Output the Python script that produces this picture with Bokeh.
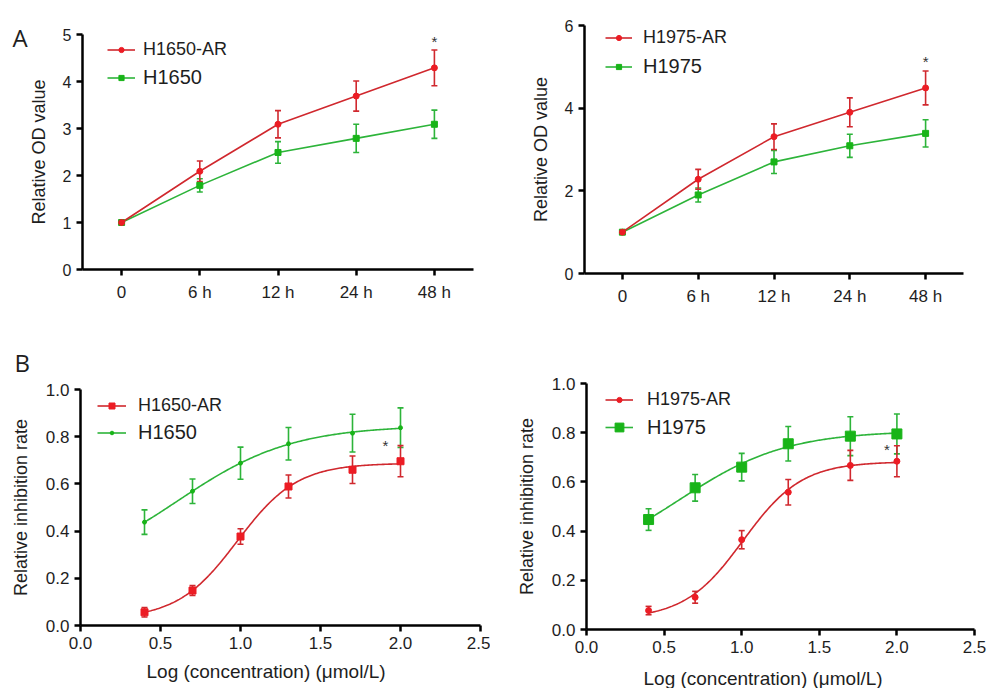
import numpy as np
from bokeh.plotting import figure
from bokeh.models import (Range1d, FixedTicker, Whisker, TeeHead, ColumnDataSource,
                          Legend, LegendItem, Label, PrintfTickFormatter)
from bokeh.layouts import row, column
from bokeh.embed import file_html
from bokeh.resources import INLINE
from bokeh.core.properties import value

# ---------------- data ----------------
time_labels = ["0", "6 h", "12 h", "24 h", "48 h"]

a1_ar_mean = [1.0, 2.09, 3.09, 3.69, 4.29]
a1_ar_err = [0.0, 0.22, 0.29, 0.32, 0.38]
a1_wt_mean = [1.0, 1.79, 2.49, 2.79, 3.09]
a1_wt_err = [0.0, 0.14, 0.23, 0.30, 0.30]

a2_ar_mean = [1.0, 2.28, 3.31, 3.90, 4.49]
a2_ar_err = [0.0, 0.24, 0.31, 0.35, 0.41]
a2_wt_mean = [1.0, 1.90, 2.70, 3.09, 3.39]
a2_wt_err = [0.0, 0.17, 0.28, 0.28, 0.33]

log_conc = [0.4, 0.7, 1.0, 1.3, 1.7, 2.0]
b1_ar_mean = [0.056, 0.148, 0.377, 0.589, 0.660, 0.696]
b1_ar_err = [0.020, 0.021, 0.033, 0.049, 0.058, 0.066]
b1_wt_mean = [0.438, 0.569, 0.688, 0.770, 0.815, 0.838]
b1_wt_err = [0.052, 0.052, 0.068, 0.069, 0.080, 0.084]

b2_ar_mean = [0.077, 0.131, 0.365, 0.558, 0.667, 0.684]
b2_ar_err = [0.017, 0.024, 0.037, 0.052, 0.061, 0.063]
b2_wt_mean = [0.447, 0.576, 0.660, 0.755, 0.786, 0.795]
b2_wt_err = [0.044, 0.054, 0.056, 0.070, 0.079, 0.081]

a_yticks_1 = [0, 1, 2, 3, 4, 5]
a_yticks_2 = [0, 2, 4, 6]
b_yticks = [0.0, 0.2, 0.4, 0.6, 0.8, 1.0]
b_xticks = [0.0, 0.5, 1.0, 1.5, 2.0, 2.5]

RED_LINE = "#d0282e"
RED_MK = "#ec1c24"
GREEN_LINE = "#2db43a"
GREEN_MK = "#18b418"
FONT = "Liberation Sans"
TXT = "#1e1e1e"


class Frame:
    """Maps pixel positions inside a figure (origin top-left) to data values."""

    def __init__(self, W, H, px0, px1, xv0, xv1, py_top, py_bot, yv0, yv1):
        self.W, self.H = W, H
        self.xppu = (px1 - px0) / (xv1 - xv0)
        self.yppu = (py_bot - py_top) / (yv1 - yv0)
        self.px0, self.xv0, self.py_bot, self.yv0 = px0, xv0, py_bot, yv0

    def xd(self, px):
        return self.xv0 + (px - self.px0) / self.xppu

    def yd(self, py):
        return self.yv0 + (self.py_bot - py) / self.yppu


def base_fig(fr, xb, yb):
    p = figure(width=fr.W, height=fr.H,
               x_range=Range1d(fr.xd(0), fr.xd(fr.W)),
               y_range=Range1d(fr.yd(fr.H), fr.yd(0)),
               toolbar_location=None, output_backend="svg")
    p.min_border = 0
    p.min_border_left = 0
    p.min_border_right = 0
    p.min_border_top = 0
    p.min_border_bottom = 0
    p.outline_line_color = None
    p.grid.visible = False
    p.background_fill_color = "white"
    p.border_fill_color = "white"
    p.xaxis.fixed_location = yb[0]
    p.yaxis.fixed_location = xb[0]
    p.xaxis.bounds = xb
    p.yaxis.bounds = yb
    for ax in (p.xaxis[0], p.yaxis[0]):
        ax.axis_line_width = 2.5
        ax.axis_line_color = "black"
        ax.major_tick_line_width = 2.5
        ax.major_tick_line_color = "black"
        ax.major_tick_out = 6
        ax.major_tick_in = 0
        ax.minor_tick_line_color = None
        ax.major_label_text_font = FONT
        ax.major_label_text_color = TXT
        ax.axis_label_text_font = FONT
        ax.axis_label_text_font_style = "normal"
        ax.axis_label_text_color = TXT
    return p


def add_series(p, x, mean, err, line_color, mk_color, marker, size, curve=None):
    xe = [xi for xi, e in zip(x, err) if e > 0]
    up = [m + e for m, e in zip(mean, err) if e > 0]
    lo = [m - e for m, e in zip(mean, err) if e > 0]
    src = ColumnDataSource(dict(x=xe, upper=up, lower=lo))
    w = Whisker(source=src, base="x", upper="upper", lower="lower",
                line_color=line_color, line_width=1.6, level="underlay",
                upper_head=TeeHead(size=6, line_color=line_color, line_width=1.6),
                lower_head=TeeHead(size=6, line_color=line_color, line_width=1.6))
    p.add_layout(w)
    if curve is None:
        lr = p.line(x, mean, line_color=line_color, line_width=1.6)
    else:
        lr = p.line(curve[0], curve[1], line_color=line_color, line_width=1.6)
    sr = p.scatter(x, mean, marker=marker, size=size, fill_color=mk_color,
                   line_color=mk_color)
    return [lr, sr]


def add_legend(p, fr, rends, label, size, gx, cy, gw, gh, standoff):
    # gx: pixel x of the glyph start, cy: pixel y (from top) of item centre
    lg = Legend(items=[LegendItem(label=label, renderers=rends)],
                location=(gx, fr.H - cy - 15),
                glyph_width=gw, glyph_height=gh, label_standoff=standoff,
                label_text_font_size=size, label_text_font=FONT, label_text_color=TXT,
                padding=0, margin=0, border_line_color=None, background_fill_alpha=0,
                spacing=0, label_height=30)
    p.add_layout(lg)


def fit_4pl(x, y):
    x = np.asarray(x, float)
    y = np.asarray(y, float)
    ec = np.linspace(-0.5, 3.0, 351)[:, None, None]
    hs = np.linspace(0.3, 6.0, 286)[None, :, None]
    s = 1.0 / (1.0 + 10.0 ** ((ec - x[None, None, :]) * hs))
    u = 1.0 - s
    suu = (u * u).sum(-1)
    svv = (s * s).sum(-1)
    suv = (u * s).sum(-1)
    suy = (u * y).sum(-1)
    svy = (s * y).sum(-1)
    det = suu * svv - suv ** 2
    det = np.where(np.abs(det) < 1e-12, np.nan, det)
    a = (suy * svv - svy * suv) / det
    b = (svy * suu - suy * suv) / det
    pred = a[..., None] * u + b[..., None] * s
    sse = ((pred - y) ** 2).sum(-1)
    sse = np.where(np.isfinite(sse), sse, np.inf)
    i, j = np.unravel_index(np.argmin(sse), sse.shape)
    A, B, E, H = a[i, j], b[i, j], ec[i, 0, 0], hs[0, j, 0]
    xs = np.linspace(x.min(), x.max(), 200)
    ys = A + (B - A) / (1.0 + 10.0 ** ((E - xs) * H))
    return xs, ys


def star_text(p, fr, x, y, dy_px, x_offset=0):
    # significance mark, dy_px pixels above (positive) the given data y
    p.text(x=[x], y=[y + dy_px / fr.yppu], text=["*"], text_align="center",
           text_baseline="middle", text_font=value(FONT), text_font_size="15px",
           text_color="#333333", x_offset=x_offset)


def letter(p, fr, txt, px, py_base):
    p.add_layout(Label(x=fr.xd(px), y=fr.yd(py_base), text=txt, text_font="Open Sans",
                       text_font_size="24px", text_color=TXT, text_align="left",
                       text_baseline="alphabetic"))


def panel_a(fr, ymax, yticks, ar_mean, ar_err, wt_mean, wt_err,
            ar_label, wt_label, gx, cy_ar, cy_wt, gw, so):
    xs = list(range(len(time_labels)))
    p = base_fig(fr, (-0.5, len(time_labels) - 0.5), (0, ymax))
    p.xaxis.ticker = FixedTicker(ticks=xs)
    p.xaxis.major_label_overrides = {i: s for i, s in enumerate(time_labels)}
    p.yaxis.ticker = FixedTicker(ticks=yticks)
    p.xaxis.major_label_text_font_size = "17px"
    p.yaxis.major_label_text_font_size = "16px"
    p.xaxis.major_label_standoff = 7
    p.yaxis.major_label_standoff = 5
    p.yaxis.axis_label = "Relative OD value"
    p.yaxis.axis_label_text_font_size = "18px"
    p.yaxis.axis_label_standoff = 11
    wt = add_series(p, xs, wt_mean, wt_err, GREEN_LINE, GREEN_MK, "square", 6)
    ar = add_series(p, xs, ar_mean, ar_err, RED_LINE, RED_MK, "circle", 6)
    add_legend(p, fr, ar, ar_label, "18px", gx, cy_ar, gw, 13, so)
    add_legend(p, fr, wt, wt_label, "20px", gx, cy_wt, gw, 13, so)
    star_text(p, fr, xs[-1], ar_mean[-1] + ar_err[-1], 9)
    return p


def panel_b(fr, ar_mean, ar_err, wt_mean, wt_err, ar_label, wt_label,
            ar_marker, ar_size, ar_gh, wt_marker, wt_size, wt_gh,
            gx, cy_ar, cy_wt, gw, so, xlab_px, xlab_py, star_off, star_dy):
    p = base_fig(fr, (b_xticks[0], b_xticks[-1]), (b_yticks[0], b_yticks[-1]))
    p.xaxis.ticker = FixedTicker(ticks=b_xticks)
    p.yaxis.ticker = FixedTicker(ticks=b_yticks)
    p.xaxis.formatter = PrintfTickFormatter(format="%.1f")
    p.yaxis.formatter = PrintfTickFormatter(format="%.1f")
    p.xaxis.major_label_text_font_size = "17px"
    p.yaxis.major_label_text_font_size = "17px"
    p.xaxis.major_label_standoff = 5
    p.yaxis.major_label_standoff = 5
    p.yaxis.axis_label = "Relative inhibition rate"
    p.yaxis.axis_label_text_font_size = "18px"
    p.yaxis.axis_label_standoff = 12
    wt_curve = fit_4pl(log_conc, wt_mean)
    ar_curve = fit_4pl(log_conc, ar_mean)
    wt = add_series(p, log_conc, wt_mean, wt_err, GREEN_LINE, GREEN_MK, wt_marker, wt_size, wt_curve)
    ar = add_series(p, log_conc, ar_mean, ar_err, RED_LINE, RED_MK, ar_marker, ar_size, ar_curve)
    add_legend(p, fr, ar, ar_label, "18px", gx, cy_ar, gw, ar_gh, so)
    add_legend(p, fr, wt, wt_label, "20px", gx, cy_wt, gw, wt_gh, so)
    star_text(p, fr, log_conc[-1], ar_mean[-1] + ar_err[-1], star_dy, star_off)
    p.add_layout(Label(x=fr.xd(xlab_px), y=fr.yd(xlab_py),
                       text="Log (concentration) (\u03bcmol/L)",
                       text_font=FONT, text_font_size="19px", text_color=TXT,
                       text_align="left", text_baseline="middle"))
    return p


# figure boxes (pixels inside each figure, origin at its top-left)
frA1 = Frame(490, 330, 82, 473, -0.5, 4.5, 34, 269, 0, 5)
frA2 = Frame(500, 330, 94, 473, -0.5, 4.5, 25, 273, 0, 6)
frB1 = Frame(490, 358, 80, 480, 0.0, 2.5, 59, 295, 0.0, 1.0)
frB2 = Frame(500, 358, 96, 484, 0.0, 2.5, 53, 299, 0.0, 1.0)

pA1 = panel_a(frA1, 5, a_yticks_1, a1_ar_mean, a1_ar_err, a1_wt_mean, a1_wt_err,
              "H1650-AR", "H1650", 107, 49, 77, 28, 8)
letter(pA1, frA1, "A", 12, 37)

pA2 = panel_a(frA2, 6, a_yticks_2, a2_ar_mean, a2_ar_err, a2_wt_mean, a2_wt_err,
              "H1975-AR", "H1975", 115, 37, 66, 27, 11)

pB1 = panel_b(frB1, b1_ar_mean, b1_ar_err, b1_wt_mean, b1_wt_err,
              "H1650-AR", "H1650", "square", 7, 15, "circle", 4, 9,
              97, 75, 102, 29, 12, 146, 341, -15, 0)
letter(pB1, frB1, "B", 14, 32)

pB2 = panel_b(frB2, b2_ar_mean, b2_ar_err, b2_wt_mean, b2_wt_err,
              "H1975-AR", "H1975", "circle", 6, 13, "square", 10, 22,
              115, 69, 97, 28, 14, 153, 348, -10, -4)

layout = column(row(pA1, pA2), row(pB1, pB2))
open("out.html", "w").write(file_html(layout, INLINE))
